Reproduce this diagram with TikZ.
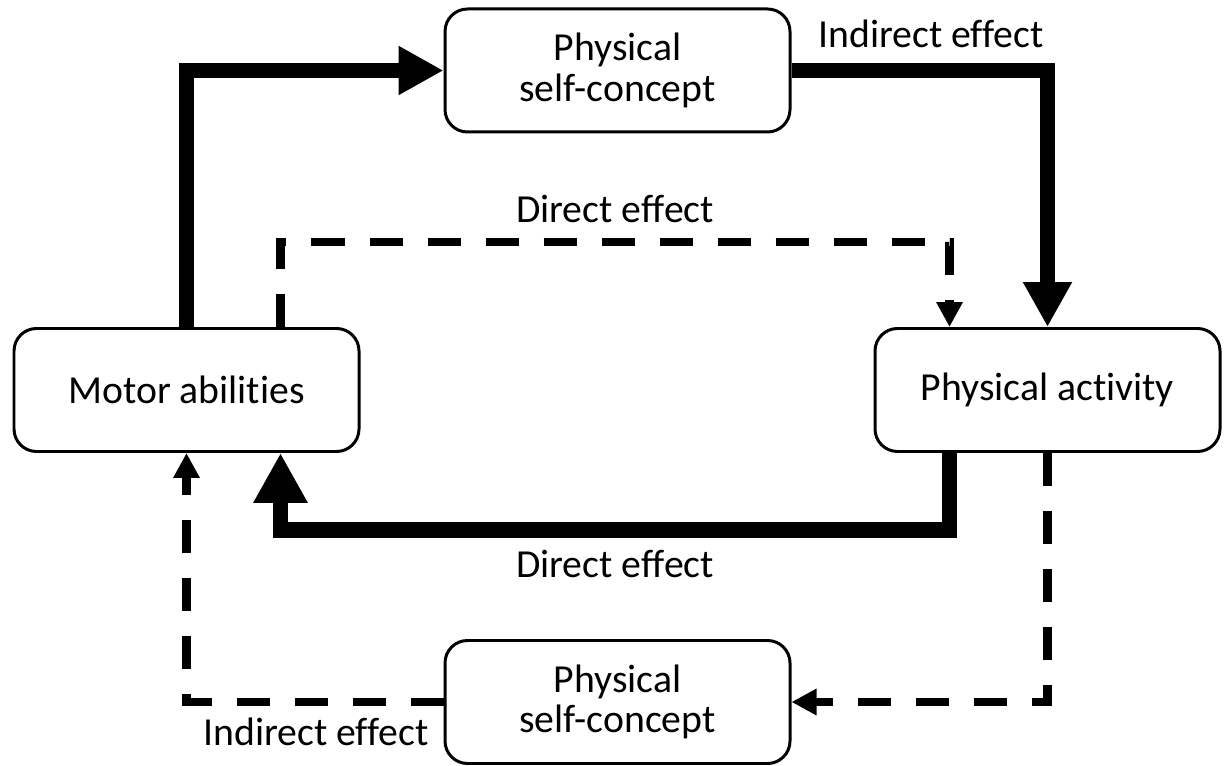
\documentclass[tikz,border=0pt]{standalone}
\usepackage{fontspec}
\setmainfont{Carlito}[Ligatures=NoCommon]
\usetikzlibrary{arrows.meta}

\begin{document}
\begin{tikzpicture}[
  box/.style={draw, line width=1.7pt, rounded corners=0.45cm, minimum width=6.9cm,
    minimum height=2.46cm, align=center, font=\fontsize{22.6}{23}\selectfont},
  lbl/.style={anchor=base, font=\fontsize{22.6}{23}\selectfont},
  strong/.style={line width=9pt, -{Triangle[length=0.9cm,width=0.92cm]}},
  weak/.style={line width=5pt, dash pattern=on 0.66cm off 0.5cm,
    -{Triangle[length=0.5cm,width=0.5cm]}}]
  \useasboundingbox (0,0) rectangle (24.52,15.3);
  \node[box] (motor) at (3.73,7.5) {Motor abilities};
  \node[box] (activity) at (20.95,7.5) {Physical activity};
  \node[box] (selftop) at (12.35,13.89) {Physical\\self-concept};
  \node[box] (selfbot) at (12.35,1.26) {Physical\\self-concept};
  \coordinate (dtop) at (0,10.46);
  \coordinate (dbot) at (0,4.7);
  \coordinate (motorout) at ([xshift=1.88cm]motor.north);
  \coordinate (motorin) at ([xshift=1.88cm]motor.south);
  \coordinate (activityin) at ([xshift=-1.96cm]activity.north);
  \coordinate (activityout) at ([xshift=-1.96cm]activity.south);
  \draw[strong] (motor.north) |- (selftop.west);
  \draw[strong] (selftop.east) -| (activity.north);
  \draw[weak] (motorout) -- (motorout |- dtop) -| (activityin);
  \draw[strong, -{Triangle[length=1cm,width=1.02cm]}] (activityout) -- (activityout |- dbot) -| (motorin);
  \draw[weak] (activity.south) |- (selfbot.east);
  \draw[weak] (selfbot.west) -| (motor.south);
  \node[lbl] (inditop) at (18.62,14.34) {Indirect effect};
  \node[lbl] (dirtop) at (12.3,10.84) {Direct effect};
  \node[lbl] (dirbot) at (12.3,3.76) {Direct effect};
  \node[lbl] (indibot) at (6.32,0.4) {Indirect effect};
\end{tikzpicture}
\end{document}
